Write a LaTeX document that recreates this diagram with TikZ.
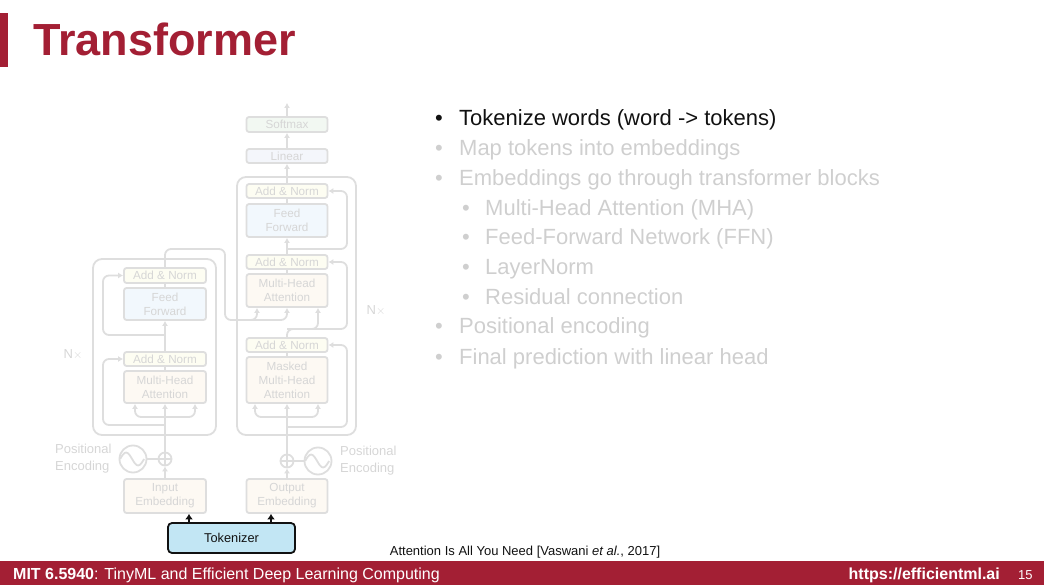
\documentclass[tikz,border=0pt]{standalone}
\usepackage{fontspec}
\setmainfont{Liberation Sans}
\usetikzlibrary{arrows.meta,positioning}
\definecolor{mitred}{HTML}{A31F34}
\definecolor{ink}{HTML}{111111}
\definecolor{fade}{HTML}{CFCFCF}
\definecolor{dline}{HTML}{DEDEDE}
\definecolor{dtext}{HTML}{D6D6D6}
\definecolor{fnorm}{HTML}{FDFDF2}
\definecolor{fffn}{HTML}{F2F8FD}
\definecolor{fmha}{HTML}{FDF9F3}
\definecolor{flin}{HTML}{F4F6FB}
\definecolor{fsoft}{HTML}{F2F8F2}
\definecolor{ltok}{HTML}{C2E6F4}
\tikzset{
  >={Latex[length=5pt,width=6pt]},
  bx/.style={draw=dline,line width=1.8pt,rounded corners=2.5pt,align=center,inner sep=0pt,
    minimum width=81pt,text=dtext,font=\fontsize{11.7}{14}\selectfont},
  bxn/.style={bx,fill=fnorm,minimum height=14pt},
  bxf/.style={bx,fill=fffn,minimum height=33pt},
  bxm/.style={bx,fill=fmha,minimum height=33pt},
  blk/.style={draw=dline,line width=1.8pt,rounded corners=9pt,inner sep=0pt},
  ln/.style={draw=dline,line width=1.8pt},
  arr/.style={ln,->},
  res/.style={arr,rounded corners=6pt},
  sum/.style={circle,draw=dline,line width=1.8pt,minimum size=13pt,inner sep=0pt},
  wave/.style={circle,draw=dline,line width=1.8pt,minimum size=27pt,inner sep=0pt},
  lab/.style={text=dtext,font=\fontsize{13}{17}\selectfont,align=left,inner sep=0pt},
  itm/.style={anchor=base west,inner sep=0pt,text=fade,font=\fontsize{22}{26}\selectfont},
  tokbox/.style={draw=ink,fill=ltok,line width=1.8pt,rounded corners=4pt,inner sep=0pt,
    minimum width=127pt,minimum height=30pt,text=ink,font=\fontsize{12.8}{14}\selectfont},
  tokarr/.style={draw=ink,line width=2.4pt,-{Latex[length=5.5pt,width=8pt]}},
}

\begin{document}
\begin{tikzpicture}[x=1pt,y=-1pt]
  \useasboundingbox (0,0) rectangle (1044,585);
  % title
  \fill[mitred] (0,13) rectangle (8,67);
  \node[anchor=base west,inner sep=0,text=mitred,font=\fontsize{45}{48}\selectfont\bfseries] (title) at (33,56) {Transformer};

  % encoder / decoder stacks
  \node[blk,minimum width=123pt,minimum height=176pt] (encblk) at (154.5,347) {};
  \node[blk,minimum width=119pt,minimum height=258pt] (decblk) at (296.5,306) {};

  \node[bxm,minimum width=82pt,minimum height=34pt] (inemb) at (165,496) {Input\\Embedding};
  \node[sum] (inplus) at (165,459) {};
  \node[wave] (inpe) at (133,459) {};
  \node[bxm,minimum width=82pt,minimum height=32pt] (encmha) at (165,387) {Multi-Head\\Attention};
  \node[bxn,minimum width=82pt] (encan1) at (165,359) {Add \& Norm};
  \node[bxf,minimum width=82pt,minimum height=32pt] (encff) at (165,304) {Feed\\Forward};
  \node[bxn,minimum width=82pt,minimum height=15pt] (encan2) at (165,275.5) {Add \& Norm};

  \node[bxm,minimum height=34pt] (outemb) at (287,496) {Output\\Embedding};
  \node[sum] (outplus) at (287,461) {};
  \node[wave] (outpe) at (318,461) {};
  \node[bxm,minimum height=46pt] (decmmha) at (287,380) {Masked\\Multi-Head\\Attention};
  \node[bxn] (decan1) at (287,345) {Add \& Norm};
  \node[bxm] (decmha) at (287,290.5) {Multi-Head\\Attention};
  \node[bxn] (decan2) at (287,262) {Add \& Norm};
  \node[bxf] (decff) at (287,220.5) {Feed\\Forward};
  \node[bxn] (decan3) at (287,191) {Add \& Norm};
  \node[bx,fill=flin,minimum height=14pt] (linear) at (287,156) {Linear};
  \node[bx,fill=fsoft,minimum height=15pt] (softmax) at (287,124.5) {Softmax};
  \coordinate (out) at (287,103);

  \node[lab,anchor=west] (inpelab) at (55,459) {Positional\\Encoding};
  \node[lab,anchor=west] (outpelab) at (340,461) {Positional\\Encoding};
  \node[lab] (encn) at (73,355) {N$\times$};
  \node[lab] (decn) at (376,311) {N$\times$};

  % plus and wave marks
  \draw[ln] (inplus.north) -- (inplus.south) (inplus.west) -- (inplus.east);
  \draw[ln] (outplus.north) -- (outplus.south) (outplus.west) -- (outplus.east);
  \draw[ln] ([xshift=1.5pt]inpe.west) sin ++(6,-6.5) cos ++(6,6.5) sin ++(6,6.5) cos ++(6,-6.5);
  \draw[ln] ([xshift=1.5pt]outpe.west) sin ++(6,-6.5) cos ++(6,6.5) sin ++(6,6.5) cos ++(6,-6.5);
  \draw[ln] (inpe.east) -- (inplus.west);
  \draw[ln] (outplus.east) -- (outpe.west);

  % encoder flow
  \draw[arr] (inemb.north) -- (inplus.south);
  \draw[arr] (inplus.north) -- (encmha.south);
  \coordinate (esplit) at (165,417);
  \draw[res] (esplit) -| ([xshift=-30pt]encmha.south);
  \draw[res] (esplit) -| ([xshift=30pt]encmha.south);
  \coordinate (eres1) at (165,425);
  \draw[res] (eres1) -- (103,425) |- (encan1.west);
  \draw[ln] (encmha.north) -- (encan1.south);
  \draw[arr] (encan1.north) -- (encff.south);
  \coordinate (eres2) at (165,335);
  \draw[res] (eres2) -- (103,335) |- (encan2.west);
  \draw[ln] (encff.north) -- (encan2.south);

  % encoder output into decoder
  \draw[res] (encan2.north) -- (165,249) -- (225,249) -- (225,320) -| (decmha.south);
  \coordinate (ksplit) at (240,320);
  \draw[res] (ksplit) -| ([xshift=-30pt]decmha.south);

  % decoder flow
  \draw[arr] (outemb.north) -- (outplus.south);
  \draw[arr] (outplus.north) -- (decmmha.south);
  \coordinate (dsplit) at (287,417);
  \draw[res] (dsplit) -| ([xshift=-32pt]decmmha.south);
  \draw[res] (dsplit) -| ([xshift=31pt]decmmha.south);
  \coordinate (dres0) at (287,427);
  \draw[res] (dres0) -- (347,427) |- (decan1.east);
  \draw[ln] (decmmha.north) -- (decan1.south);
  \draw[res] (decan1.north) -- (287,329) -| ([xshift=31pt]decmha.south);
  \coordinate (dres2) at (287,329);
  \draw[res] (dres2) -- (347,329) |- (decan2.east);
  \draw[ln] (decmha.north) -- (decan2.south);
  \draw[arr] (decan2.north) -- (decff.south);
  \coordinate (dres1) at (287,249);
  \draw[res] (dres1) -- (347,249) |- (decan3.east);
  \draw[ln] (decff.north) -- (decan3.south);
  \draw[arr] (decan3.north) -- (linear.south);
  \draw[arr] (linear.north) -- (softmax.south);
  \draw[arr] (softmax.north) -- (out);

  % tokenizer
  \node[tokbox] (tok) at (231.5,538) {Tokenizer};
  \draw[tokarr] ([xshift=-42.5pt]tok.north) -- ([xshift=24pt]inemb.south);
  \draw[tokarr] ([xshift=39.5pt]tok.north) -- ([xshift=-16pt]outemb.south);

  % bullets
  \node[itm,text=ink] (b1) at (435,126) {\makebox[24pt][l]{\textbullet}Tokenize words (word -> tokens)};
  \node[itm] (b2) at (435,156) {\makebox[24pt][l]{\textbullet}Map tokens into embeddings};
  \node[itm] (b3) at (435,186) {\makebox[24pt][l]{\textbullet}Embeddings go through transformer blocks};
  \node[itm] (b4) at (462,216) {\makebox[23pt][l]{\textbullet}Multi-Head Attention (MHA)};
  \node[itm] (b5) at (462,245) {\makebox[23pt][l]{\textbullet}Feed-Forward Network (FFN)};
  \node[itm] (b6) at (462,275) {\makebox[23pt][l]{\textbullet}LayerNorm};
  \node[itm] (b7) at (462,305) {\makebox[23pt][l]{\textbullet}Residual connection};
  \node[itm] (b8) at (435,334) {\makebox[24pt][l]{\textbullet}Positional encoding};
  \node[itm] (b9) at (435,364) {\makebox[24pt][l]{\textbullet}Final prediction with linear head};

  % citation and footer
  \node[inner sep=0,text=ink,font=\fontsize{13}{14}\selectfont] (cite) at (525,552) {Attention Is All You Need [Vaswani \textit{et al.}, 2017]};
  \fill[mitred] (0,561) rectangle (1044,585);
  \node[anchor=base west,inner sep=0,text=white,font=\fontsize{16}{16}\selectfont] (foot) at (13,579) {\textbf{MIT 6.5940}: TinyML and Efficient Deep Learning Computing};
  \node[anchor=base east,inner sep=0,text=white,font=\fontsize{16}{16}\selectfont\bfseries] (url) at (1000,579) {https://efficientml.ai};
  \node[anchor=base west,inner sep=0,text=white,font=\fontsize{13}{14}\selectfont] (pg) at (1018,579) {15};
\end{tikzpicture}
\end{document}
